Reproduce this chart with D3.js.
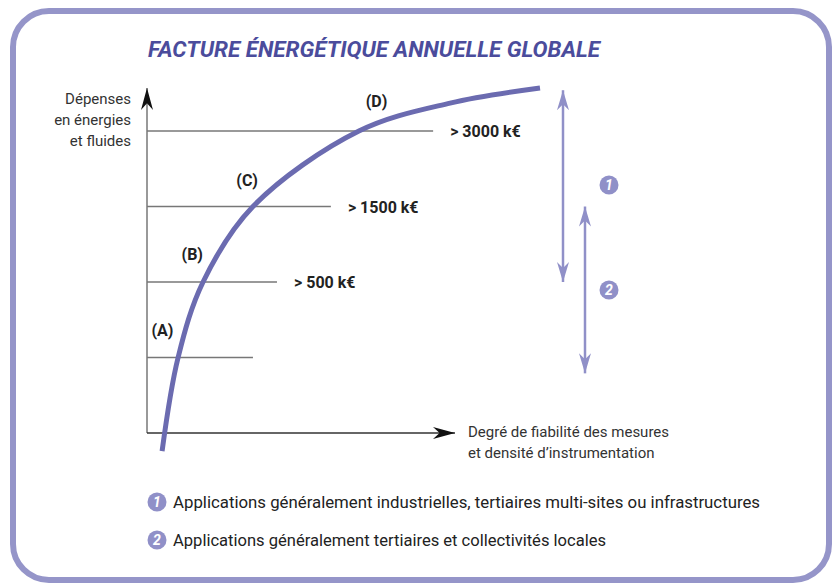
<!DOCTYPE html>
<html>
<head>
<meta charset="utf-8">
<script src="https://cdn.jsdelivr.net/npm/d3@7"></script>
<style>
  body { margin: 0; background: #fff; }
  svg { display: block; font-family: Roboto, "Noto Sans", sans-serif; }
</style>
</head>
<body>
<div id="chart"></div>
<script>
// chart data (x = degré de fiabilité 0-100, y = niveau de dépenses)
const curveX = [4.9, 10.1, 18.2, 34.4, 68.8, 98.4, 127.6];
const curveY = [-0.24, 1, 2, 3, 4, 4.37, 4.57];

const levels = [1, 2, 3, 4];
const levelEnds = [34.4, 42.2, 59.7, 92.9];
const levelLabels = ["", "> 500 k€", "> 1500 k€", "> 3000 k€"];

const classNames = ["(A)", "(B)", "(C)", "(D)"];
const classX = [5, 14.7, 32.5, 74.5];
const classY = [1.37, 2.37, 3.35, 4.4];

const rangeIds = ["1", "2"];
const rangeTop = [4.54, 3.0];
const rangeBottom = [2.0, 0.79];

const legendTexts = [
    "Applications généralement industrielles, tertiaires multi-sites ou infrastructures",
    "Applications généralement tertiaires et collectivités locales"
];

const width = 835;
const height = 584;

const purple = "#6b6bb0";
const lightPurple = "#9090c8";
const titleColor = "#4b4c9c";
const textColor = "#222";

const svg = d3.select("#chart")
    .append("svg")
    .attr("width", width)
    .attr("height", height);

// frame
svg.append("rect")
    .attr("x", 13)
    .attr("y", 11)
    .attr("width", 816)
    .attr("height", 569)
    .attr("rx", 36)
    .attr("fill", "none")
    .attr("stroke", "#9595c9")
    .attr("stroke-width", 6);

// title
svg.append("text")
    .attr("x", 148)
    .attr("y", 57)
    .attr("font-size", 22)
    .attr("font-weight", "bold")
    .attr("font-style", "italic")
    .attr("fill", titleColor)
    .attr("textLength", 452)
    .attr("lengthAdjust", "spacingAndGlyphs")
    .text("FACTURE ÉNERGÉTIQUE ANNUELLE GLOBALE");

// scales
const x = d3.scaleLinear().domain([0, 100]).range([147, 455]);
const y = d3.scaleLinear().domain([0, 4]).range([433, 131]);

// arrow markers
const defs = svg.append("defs");
function addMarker(id, color, w, h) {
    defs.append("marker")
        .attr("id", id)
        .attr("viewBox", `0 ${-h} ${w} ${2 * h}`)
        .attr("refX", w)
        .attr("refY", 0)
        .attr("markerUnits", "userSpaceOnUse")
        .attr("markerWidth", w)
        .attr("markerHeight", 2 * h)
        .attr("orient", "auto-start-reverse")
        .append("path")
        .attr("d", `M0,${-h} L${w},0 L0,${h} L${w * 0.3},0 Z`)
        .attr("fill", color);
}
addMarker("axisArrow", "#111", 22, 6);
addMarker("rangeArrow", lightPurple, 20, 6);

// level lines
svg.append("g")
    .selectAll("line")
    .data(levels)
    .join("line")
    .attr("x1", x(0))
    .attr("x2", (d, i) => x(levelEnds[i]))
    .attr("y1", d => y(d))
    .attr("y2", d => y(d))
    .attr("stroke", "#777")
    .attr("stroke-width", 1.5);

svg.append("g")
    .selectAll("text")
    .data(levels)
    .join("text")
    .attr("x", (d, i) => x(levelEnds[i]) + 17)
    .attr("y", d => y(d) + 6)
    .attr("font-size", 16)
    .attr("font-weight", "bold")
    .attr("fill", textColor)
    .text((d, i) => levelLabels[i]);

// axes
svg.append("line")
    .attr("x1", x(0)).attr("y1", y(0))
    .attr("x2", x(0)).attr("y2", y(4.57))
    .attr("stroke", "#777")
    .attr("stroke-width", 1.5)
    .attr("marker-end", "url(#axisArrow)");

svg.append("line")
    .attr("x1", x(0)).attr("y1", y(0))
    .attr("x2", x(100)).attr("y2", y(0))
    .attr("stroke", "#333")
    .attr("stroke-width", 1.5)
    .attr("marker-end", "url(#axisArrow)");

// axis titles
const yTitle = svg.append("text")
    .attr("text-anchor", "end")
    .attr("font-size", 15)
    .attr("fill", "#333");
["Dépenses", "en énergies", "et fluides"].forEach((t, i) => {
    yTitle.append("tspan").attr("x", 131).attr("y", 104 + i * 21).text(t);
});

const xTitle = svg.append("text")
    .attr("font-size", 15)
    .attr("fill", "#333");
["Degré de fiabilité des mesures", "et densité d’instrumentation"].forEach((t, i) => {
    xTitle.append("tspan").attr("x", 468).attr("y", 437 + i * 21).text(t);
});

// curve
const curvePoints = curveX.map((d, i) => [d, curveY[i]]);
const line = d3.line()
    .x(d => x(d[0]))
    .y(d => y(d[1]))
    .curve(d3.curveCatmullRom.alpha(0.5));

svg.append("path")
    .datum(curvePoints)
    .attr("d", line)
    .attr("fill", "none")
    .attr("stroke", purple)
    .attr("stroke-width", 5);

// class labels
svg.append("g")
    .selectAll("text")
    .data(classNames)
    .join("text")
    .attr("x", (d, i) => x(classX[i]))
    .attr("y", (d, i) => y(classY[i]) + 6)
    .attr("text-anchor", "middle")
    .attr("font-size", 16)
    .attr("font-weight", "bold")
    .attr("fill", textColor)
    .text(d => d);

// range arrows
const rangeX = [563, 585];
svg.append("g")
    .selectAll("line")
    .data(rangeIds)
    .join("line")
    .attr("x1", (d, i) => rangeX[i])
    .attr("x2", (d, i) => rangeX[i])
    .attr("y1", (d, i) => y(rangeTop[i]))
    .attr("y2", (d, i) => y(rangeBottom[i]))
    .attr("stroke", lightPurple)
    .attr("stroke-width", 2.5)
    .attr("marker-start", "url(#rangeArrow)")
    .attr("marker-end", "url(#rangeArrow)");

function badge(g, cx, cy, label) {
    g.append("circle")
        .attr("cx", cx)
        .attr("cy", cy)
        .attr("r", 9.5)
        .attr("fill", lightPurple);
    g.append("text")
        .attr("x", cx)
        .attr("y", cy + 5)
        .attr("text-anchor", "middle")
        .attr("font-size", 14)
        .attr("font-weight", "bold")
        .attr("font-style", "italic")
        .attr("fill", "#fff")
        .text(label);
}

const badges = svg.append("g");
const badgeY = [185, 290];
rangeIds.forEach((id, i) => badge(badges, 609, badgeY[i], id));

// legend
const legend = svg.append("g");
const legendWidths = [587, 433];
legendTexts.forEach((t, i) => {
    const ly = 502 + i * 38;
    badge(legend, 157, ly, rangeIds[i]);
    legend.append("text")
        .attr("x", 173)
        .attr("y", ly + 6)
        .attr("font-size", 16)
        .attr("fill", textColor)
        .attr("textLength", legendWidths[i])
        .attr("lengthAdjust", "spacingAndGlyphs")
        .text(t);
});
</script>
</body>
</html>
